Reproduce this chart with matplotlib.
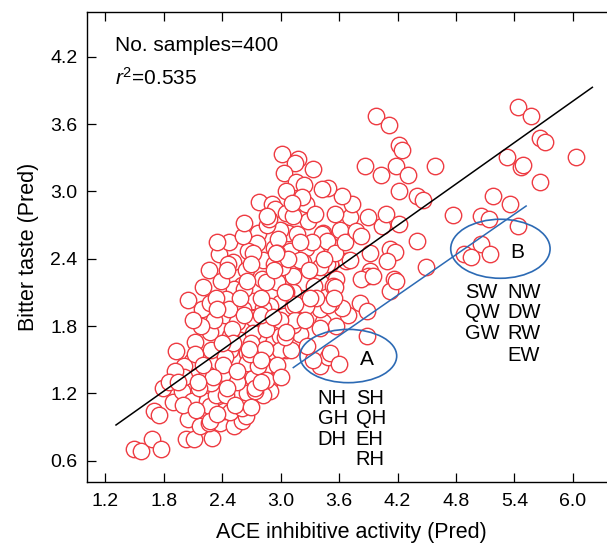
import matplotlib
matplotlib.use('Agg')
import matplotlib.pyplot as plt
from matplotlib.patches import Ellipse
import numpy as np

plt.rcParams['font.family'] = ['Liberation Sans', 'DejaVu Sans']
plt.rcParams['mathtext.fontset'] = 'custom'
plt.rcParams['mathtext.rm'] = 'Liberation Sans'
plt.rcParams['mathtext.it'] = 'Liberation Sans:italic'

# Predicted ACE inhibitive activity (x) and bitter taste (y) of the peptides
ace_pred = [
    5.44, 5.57, 5.66, 5.71, 6.03, 5.32, 5.47, 5.49, 5.66, 5.18,
    5.35, 4.77, 5.06, 5.14, 5.44, 5.06, 4.88, 4.95, 5.15,
    3.98, 4.11, 4.21, 4.25, 3.87, 4.03, 4.18, 4.31, 4.58, 4.21,
    4.40, 4.46, 4.40, 4.49, 4.12, 4.17, 4.09, 4.22, 4.04, 4.08,
    3.90, 3.71, 3.73, 3.63, 3.49, 3.92, 3.92, 3.52, 3.67, 3.51,
    3.61, 3.44, 4.16, 4.12, 4.18,
    3.40, 3.49, 3.51, 3.60, 3.89, 3.69, 3.81, 3.89, 3.90, 3.83,
    3.57, 3.44, 3.63, 3.52, 3.40, 3.57, 3.26, 3.20, 3.13, 2.99,
    3.06, 2.93, 2.89, 2.89, 2.85, 3.24, 3.13, 2.99, 2.89, 3.03,
    2.85, 3.40, 2.96, 3.13, 3.33,
    1.49, 1.57, 1.68, 1.77, 2.03, 2.11, 2.30, 2.05, 1.70, 1.75,
    1.79, 1.90, 1.99, 2.09, 2.24, 2.17, 2.26, 2.38, 2.52, 2.60,
    2.42, 2.28, 2.34, 2.44, 2.65, 2.82, 2.72, 2.52, 2.29, 2.24,
    2.42, 1.93, 2.09, 2.01, 2.12, 2.28, 2.29, 2.48, 2.58, 2.65,
    2.65, 2.77, 2.77, 2.85, 2.05, 2.19, 2.28, 2.43, 2.55, 2.55,
    2.60, 2.72, 2.72, 2.82, 2.52, 2.81, 2.72, 2.48, 2.43, 2.64,
    2.48,
    3.01, 3.18, 3.15, 3.33, 3.03, 3.16, 3.24, 3.42, 3.06, 2.78,
    2.91, 2.94, 3.26, 3.06, 3.28, 3.01, 3.08, 3.42, 2.77, 2.76,
    2.93, 3.10, 3.26, 2.37, 2.51, 2.67, 2.82, 3.01, 3.23, 3.48,
    3.48, 2.99,
    2.60, 2.74, 2.99, 3.11, 2.70, 2.85, 2.50, 3.13, 3.40, 3.49,
    2.93, 3.20, 3.40, 3.71, 3.95, 3.54, 3.34, 2.85, 2.62, 2.44,
    2.47, 2.61, 2.86, 2.97, 3.17, 3.32, 3.13, 2.88, 2.72, 3.56,
    3.66, 3.77, 3.83, 3.56, 3.22, 2.26, 2.39, 2.64, 2.80, 2.93,
    3.06, 3.29, 3.36, 3.15, 2.99, 2.80, 2.61, 2.47, 2.32, 2.18,
    2.51, 2.84, 3.04, 3.27, 2.69, 2.41, 2.55, 2.74, 2.31, 2.16,
    2.12, 2.01, 1.92, 1.85, 2.00, 2.13, 2.28, 2.53, 2.80, 2.96,
    3.56, 3.15, 3.04, 2.34, 2.58, 2.65, 2.96, 2.46, 3.08,
    2.35, 2.62, 2.86, 3.12, 3.35, 2.70, 2.45, 2.20, 2.10, 2.35,
    2.62, 2.95, 3.20, 3.45, 3.30, 3.05, 2.92, 2.68, 2.40, 2.20,
    2.55, 2.80, 3.00, 2.45, 2.15, 1.95, 2.70, 2.35, 3.25, 3.55,
]
bitter_pred = [
    3.75, 3.67, 3.48, 3.44, 3.31, 3.31, 3.22, 3.24, 3.08, 2.96,
    2.89, 2.79, 2.78, 2.75, 2.69, 2.53, 2.44, 2.42, 2.44,
    3.67, 3.59, 3.41, 3.37, 3.23, 3.15, 3.23, 3.15, 3.23, 3.00,
    2.96, 2.92, 2.56, 2.33, 2.49, 2.46, 2.38, 2.71, 2.69, 2.80,
    2.77, 2.77, 2.89, 2.96, 3.03, 2.45, 2.29, 2.51, 2.38, 2.35,
    2.66, 2.63, 2.22, 2.11, 2.20,
    1.44, 1.52, 1.56, 1.46, 1.71, 1.90, 2.01, 1.93, 2.25, 2.22,
    2.22, 1.84, 1.96, 2.01, 1.95, 1.80, 1.98, 1.73, 1.81, 1.71,
    1.59, 1.56, 1.31, 1.22, 1.44, 2.19, 2.10, 2.01, 1.98, 1.89,
    1.83, 2.19, 2.19, 2.25, 1.50,
    0.70, 0.69, 0.79, 0.70, 0.79, 0.79, 0.80, 0.97, 1.04, 1.01,
    1.25, 1.12, 1.22, 1.13, 1.13, 0.91, 0.94, 0.94, 0.91, 0.95,
    1.04, 1.09, 1.19, 1.19, 1.20, 1.19, 1.34, 1.32, 1.29, 1.37,
    1.38, 1.58, 1.49, 1.44, 1.66, 1.75, 1.59, 1.59, 1.68, 1.56,
    1.47, 1.70, 1.44, 1.32, 2.03, 1.95, 2.01, 1.90, 1.84, 2.01,
    2.17, 2.02, 1.87, 1.96, 2.13, 2.22, 1.74, 1.71, 1.52, 1.00,
    1.03,
    3.33, 3.29, 3.25, 3.20, 3.16, 3.08, 3.06, 3.02, 3.00, 2.91,
    2.89, 2.84, 2.89, 2.81, 2.74, 2.65, 2.63, 2.62, 2.63, 2.54,
    2.50, 2.47, 2.50, 2.44, 2.37, 2.47, 2.39, 2.33, 2.37, 2.35,
    2.56, 2.66,
    1.07, 1.22, 1.59, 1.59, 1.65, 1.77, 1.77, 1.98, 1.78, 1.99,
    2.35, 2.39, 2.33, 2.39, 2.25, 2.16, 2.16, 2.19, 2.13, 2.04,
    2.55, 2.60, 2.70, 2.58, 2.62, 2.55, 2.78, 2.75, 2.45, 2.45,
    2.55, 2.65, 2.60, 2.80, 2.95, 2.30, 2.20, 2.30, 2.05, 2.30,
    2.10, 2.30, 2.05, 1.85, 1.85, 1.90, 1.95, 1.95, 1.85, 1.80,
    1.65, 1.60, 1.70, 1.62, 1.55, 1.45, 1.30, 1.25, 1.35, 1.25,
    1.55, 1.35, 1.40, 1.30, 1.10, 1.05, 0.95, 1.10, 1.30, 1.45,
    2.15, 2.00, 2.10, 2.05, 2.05, 2.20, 2.45, 2.35, 2.40,
    2.55, 2.72, 2.78, 2.90, 2.80, 2.35, 2.30, 2.15, 1.85, 1.95,
    1.90, 2.45, 2.55, 2.40, 2.05, 1.75, 1.88, 1.60, 1.65, 1.45,
    1.40, 1.50, 1.35, 1.25, 1.30, 1.30, 1.08, 1.02, 1.85, 2.05,
]

x_ticks = [1.2, 1.8, 2.4, 3.0, 3.6, 4.2, 4.8, 5.4, 6.0]
y_ticks = [0.6, 1.2, 1.8, 2.4, 3.0, 3.6, 4.2]

# regression line and group-trend line (end points)
fit_x = [1.31, 6.20]
fit_slope, fit_icept = 0.6155, 0.112
trend_x = [3.13, 5.52]
trend_y = [1.43, 2.87]

red = '#ee3b42'
blue = '#2c6ab4'

fig = plt.figure(figsize=(6.07, 5.44), dpi=100)
ax = fig.add_axes([0.1428, 0.1134, 0.8732, 0.8651])

ax.scatter(ace_pred, bitter_pred, s=140, facecolors='white', edgecolors=red,
           linewidths=1.0, zorder=2)

fx = np.array(fit_x)
ax.plot(fx, fit_icept + fit_slope * fx, color='black', lw=1.1, zorder=3)
ax.plot(trend_x, trend_y, color=blue, lw=1.1, zorder=3)

ax.add_patch(Ellipse((3.695, 1.533), 0.993, 0.475, fill=False, ec=blue, lw=1.2, zorder=4))
ax.add_patch(Ellipse((5.256, 2.489), 1.02, 0.526, fill=False, ec=blue, lw=1.2, zorder=4))
ax.text(3.89, 1.50, 'A', fontsize=15, ha='center', va='center')
ax.text(5.43, 2.46, 'B', fontsize=15, ha='center', va='center')

# peptide labels for groups A and B
a_left = ['NH', 'GH', 'DH']
a_right = ['SH', 'QH', 'EH', 'RH']
b_left = ['SW', 'QW', 'GW']
b_right = ['NW', 'DW', 'RW', 'EW']
row_y_a = [1.155, 0.975, 0.790, 0.610]
row_y_b = [2.10, 1.92, 1.73, 1.54]
for i, t in enumerate(a_left):
    ax.text(3.38, row_y_a[i], t, fontsize=14.5, ha='left', va='center')
for i, t in enumerate(a_right):
    ax.text(3.77, row_y_a[i], t, fontsize=14.5, ha='left', va='center')
for i, t in enumerate(b_left):
    ax.text(4.89, row_y_b[i], t, fontsize=14.5, ha='left', va='center')
for i, t in enumerate(b_right):
    ax.text(5.33, row_y_b[i], t, fontsize=14.5, ha='left', va='center')

ax.text(0.053, 0.928, 'No. samples=400', transform=ax.transAxes, fontsize=15, va='center')
ax.text(0.053, 0.860, r'$r^{2}$=0.535', transform=ax.transAxes, fontsize=15, va='center')

ax.set_xlim(1.009, 6.45)
ax.set_ylim(0.4075, 4.602)
ax.set_xticks(x_ticks)
ax.set_yticks(y_ticks)
ax.set_xticklabels([f'{v:.1f}' for v in x_ticks])
ax.set_yticklabels([f'{v:.1f}' for v in y_ticks])
ax.tick_params(axis='x', direction='in', length=6.5, width=0.9, top=True, labelsize=14, pad=8)
ax.tick_params(axis='y', direction='in', length=6.5, width=0.9, right=False, labelsize=14, pad=6.5)
for sp in ax.spines.values():
    sp.set_linewidth(1.0)

ax.set_xlabel('ACE inhibitive activity (Pred)', fontsize=15.5, labelpad=8)
ax.set_ylabel('Bitter taste (Pred)', fontsize=15.5, labelpad=8)

fig.savefig('out.png', dpi=100)
